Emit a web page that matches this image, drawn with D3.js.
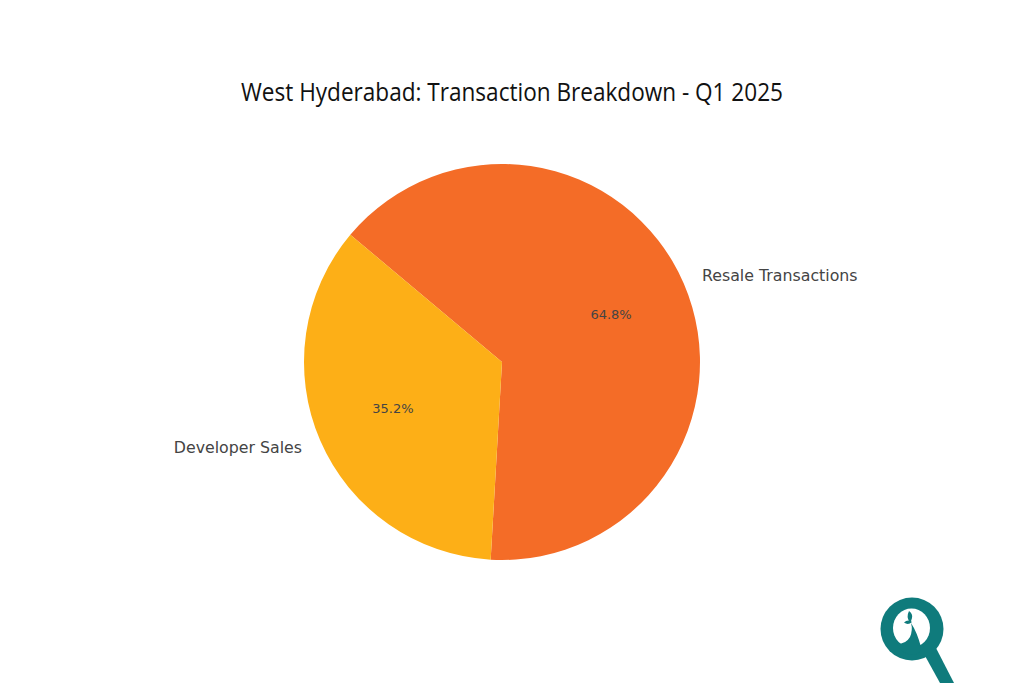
<!DOCTYPE html>
<html>
<head>
<meta charset="utf-8">
<script src="https://cdn.jsdelivr.net/npm/d3@7"></script>
<style>
  html, body { margin: 0; padding: 0; background: #fff; }
  svg { display: block; }
</style>
</head>
<body>
<svg id="chart"></svg>
<script>
// Chart data
const categories = ['Resale Transactions', 'Developer Sales'];
const shares = [64.8, 35.2];
const sliceColors = ['#f46c27', '#fdaf17'];
const chartTitle = 'West Hyderabad: Transaction Breakdown - Q1 2025';

const width = 1024;
const height = 683;
const cx = 502;
const cy = 362;
const radius = 198;
const startAngle = -50 * Math.PI / 180;

const svg = d3.select('#chart')
    .attr('width', width)
    .attr('height', height);

svg.append('rect')
    .attr('width', width)
    .attr('height', height)
    .attr('fill', '#fff');

svg.append('text')
    .attr('x', 512)
    .attr('y', 101)
    .attr('text-anchor', 'middle')
    .attr('font-family', '"Open Sans", sans-serif')
    .attr('font-size', 26)
    .attr('textLength', 542)
    .attr('lengthAdjust', 'spacingAndGlyphs')
    .attr('fill', '#111')
    .text(chartTitle);

// Pie, drawn clockwise from the upper left edge
const pie = d3.pie()
    .sort(null)
    .startAngle(startAngle)
    .endAngle(startAngle + 2 * Math.PI);

const slices = pie(shares);
const arc = d3.arc().innerRadius(0).outerRadius(radius);
const labelArc = d3.arc().innerRadius(radius * 1.1).outerRadius(radius * 1.1);
const pctArc = d3.arc().innerRadius(radius * 0.6).outerRadius(radius * 0.6);

const g = svg.append('g').attr('transform', `translate(${cx},${cy})`);

g.selectAll('path')
    .data(slices)
    .enter()
    .append('path')
    .attr('d', arc)
    .attr('fill', (d, i) => sliceColors[i]);

// Category labels sit outside the pie
g.selectAll('.cat')
    .data(slices)
    .enter()
    .append('text')
    .attr('class', 'cat')
    .attr('x', d => labelArc.centroid(d)[0])
    .attr('y', d => labelArc.centroid(d)[1])
    .attr('dy', '0.32em')
    .attr('text-anchor', d => labelArc.centroid(d)[0] > 0 ? 'start' : 'end')
    .attr('font-family', '"DejaVu Sans", sans-serif')
    .attr('font-size', 15.8)
    .attr('fill', '#444')
    .text((d, i) => categories[i]);

g.selectAll('.pct')
    .data(slices)
    .enter()
    .append('text')
    .attr('class', 'pct')
    .attr('x', d => pctArc.centroid(d)[0])
    .attr('y', d => pctArc.centroid(d)[1])
    .attr('dy', '0.32em')
    .attr('text-anchor', 'middle')
    .attr('font-family', '"DejaVu Sans", sans-serif')
    .attr('font-size', 13)
    .attr('fill', '#444')
    .text(d => d.data.toFixed(1) + '%');

// Logo: magnifier with a sprout inside
const logo = svg.append('g').attr('fill', '#0f7b7c');
logo.append('path')
    .attr('d', 'M924,654 L936,648 L954,683 L940,683 Z');
logo.append('circle')
    .attr('cx', 912)
    .attr('cy', 629)
    .attr('r', 31.5);
logo.append('ellipse')
    .attr('cx', 911.5)
    .attr('cy', 628)
    .attr('rx', 18.5)
    .attr('ry', 19.5)
    .attr('fill', '#fff');
logo.append('path')
    .attr('d', 'M897,644 Q906,644 910,637 Q913,630 911,623 Q917,632 921,647 Q921,655 912,655 Q900,653 897,644 Z');
logo.append('path')
    .attr('d', 'M909.5,622 Q906,617 909,611 Q913,614 912,618 Q911,621 910.5,623 Z');
logo.append('path')
    .attr('d', 'M904,622.5 Q908,619 912,622 Q908,625.5 904,622.5 Z');
</script>
</body>
</html>
